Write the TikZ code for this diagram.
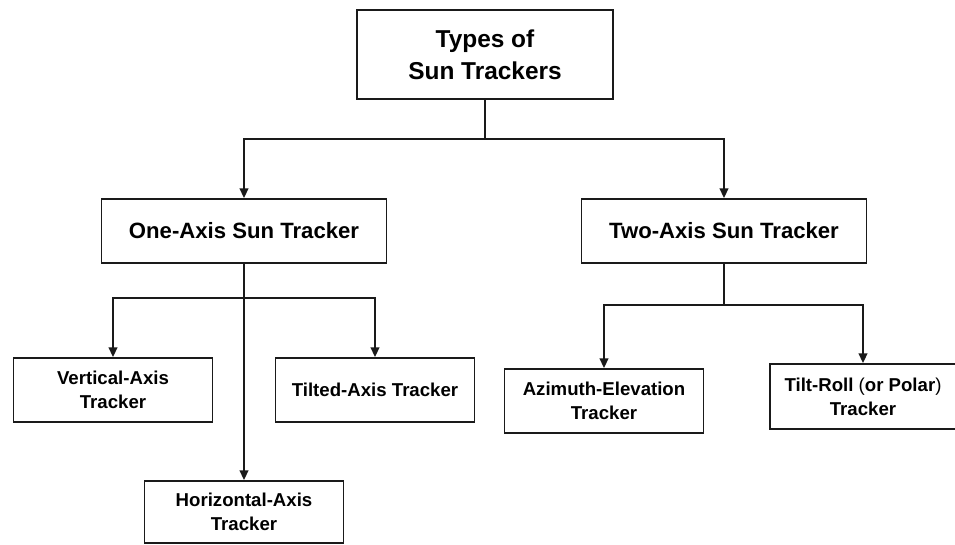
\documentclass[tikz,border=0pt]{standalone}
\usepackage{fontspec}
\setmainfont{Liberation Sans}
\usepackage{tikz}
\usetikzlibrary{arrows.meta,positioning}
\definecolor{Ink}{HTML}{1A1A1A}
\tikzset{
  treearrow/.style={-{Triangle[length=5.5pt,width=5pt]}, line width=0.85pt, draw=Ink},
  treeline/.style={line width=0.85pt, draw=Ink},
  rootbox/.style={draw=Ink, fill=white, line width=1.1pt, align=center, inner sep=2pt, minimum width=256*0.2mm, minimum height=89*0.2mm, font=\fontsize{13.9}{18.1}\selectfont\bfseries},
  axisbox/.style={draw=Ink, fill=white, line width=1.1pt, align=center, inner sep=2pt, minimum width=285*0.2mm, minimum height=64*0.2mm, font=\fontsize{12.6}{15}\selectfont\bfseries},
  leafbox/.style={draw=Ink, fill=white, line width=1.1pt, align=center, inner sep=2pt, minimum width=199*0.2mm, minimum height=64*0.2mm, font=\fontsize{10.6}{13.6}\selectfont\bfseries},
}
\begin{document}
\begin{tikzpicture}[x=0.2mm,y=-0.2mm]
\path[use as bounding box,fill=white] (0,0) rectangle (955,545);

\node[rootbox] (types) at (485,54.5) {Types of\\Sun Trackers};
\node[axisbox] (one) at (244,231) {One-Axis Sun Tracker};
\node[axisbox] (two) at (724,231) {Two-Axis Sun Tracker};

\node[leafbox] (vert) at (113,390) {Vertical-Axis\\Tracker};
\node[leafbox] (tilt) at (375,390) {Tilted-Axis Tracker};
\node[leafbox,minimum height=62*0.2mm] (horiz) at (244,512) {Horizontal-Axis\\Tracker};
\node[leafbox] (azim) at (604,401) {Azimuth-Elevation\\Tracker};
\node[leafbox,minimum width=186*0.2mm,minimum height=65*0.2mm] (roll) at (863,396.5) {Tilt-Roll {\mdseries(}or Polar{\mdseries)}\\Tracker};

\coordinate (split0) at (types.south |- 0,139);
\coordinate (split1) at (one.south |- 0,298);
\coordinate (split2) at (two.south |- 0,305);

\draw[treeline] (types.south) -- (split0);
\draw[treearrow] (split0) -| (one.north);
\draw[treearrow] (split0) -| (two.north);

\draw[treearrow] (one.south) -- (horiz.north);
\draw[treearrow] (split1) -| (vert.north);
\draw[treearrow] (split1) -| (tilt.north);

\draw[treeline] (two.south) -- (split2);
\draw[treearrow] (split2) -| (azim.north);
\draw[treearrow] (split2) -| (roll.north);
\end{tikzpicture}
\end{document}
